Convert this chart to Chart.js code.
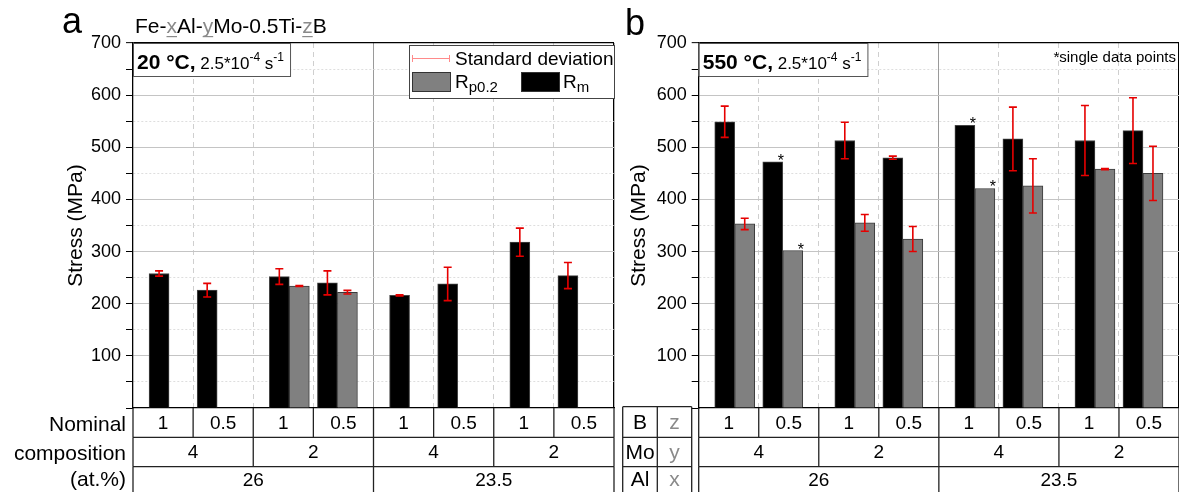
<!DOCTYPE html>
<html>
<head>
<meta charset="utf-8">
<script src="https://cdn.jsdelivr.net/npm/chart.js@4.4.0/dist/chart.umd.min.js"></script>
<style>
  body { margin: 0; background: #fff; }
  #wrap { position: relative; width: 1179px; height: 492px; overflow: hidden; background: #fff; }
  canvas { position: absolute; top: 0; }
  #chartA { left: 0; }
  #chartB { left: 600px; }
</style>
</head>
<body>
<div id="wrap">
  <canvas id="chartA" width="620" height="492"></canvas>
  <canvas id="chartB" width="579" height="492"></canvas>
</div>
<script>
// Nominal composition (at.%) for the table under each panel
const boron = ['1', '0.5', '1', '0.5', '1', '0.5', '1', '0.5'];
const molybdenum = ['4', '2', '4', '2'];
const aluminium = ['26', '23.5'];

// Panel a: 20 °C
const rmRoom = [258, 226, 252, 240, 216, 238, 318, 254];
const rmRoomSd = [5, 13, 15, 23, 1, 32, 27, 25];
const rpRoom = [null, null, 234, 222, null, null, null, null];
const rpRoomSd = [null, null, 1, 3.5, null, null, null, null];

// Panel b: 550 °C
const rmHot = [549, 472, 513, 480, 542, 516, 513, 532];
const rmHotSd = [30, 0, 35, 3, 0, 61, 67, 63];
const rpHot = [353, 302, 355, 324, 421, 426, 458, 450];
const rpHotSd = [11, 0, 16, 24, 0, 52, 1, 52];
const rmHotSingle = [false, true, false, false, true, false, false, false];
const rpHotSingle = [false, true, false, false, true, false, false, false];

const FAMILY = '"Liberation Sans", Arial, sans-serif';
const font = (size, bold) => (bold ? 'bold ' : '') + size + 'px ' + FAMILY;

// each Mo group spans two table cells, the two bar pairs sit close to its middle
const slotX = i => Math.floor(i / 2) * 2 + 1 + (i % 2 ? 0.4 : -0.4);

function drawRuns(ctx, x, y, runs) {
    runs.forEach(r => {
        ctx.font = r.font;
        ctx.fillStyle = r.color || '#000';
        ctx.fillText(r.text, x, y + (r.dy || 0));
        const w = ctx.measureText(r.text).width;
        if (r.underline) ctx.fillRect(x, y + 3, w, 1.2);
        x += w;
    });
    return x;
}

function measureRuns(ctx, runs) {
    let w = 0;
    runs.forEach(r => { ctx.font = r.font; w += ctx.measureText(r.text).width; });
    return w;
}

function conditionBox(ctx, left, top, temp) {
    const runs = [
        { text: temp, font: font(21, true) },
        { text: ' 2.5*10', font: font(17) },
        { text: '-4', font: font(12), dy: -8 },
        { text: ' s', font: font(17) },
        { text: '-1', font: font(12), dy: -8 }
    ];
    const w = measureRuns(ctx, runs) + 10;
    ctx.fillStyle = '#fff';
    ctx.fillRect(left, top, w, 33);
    ctx.strokeStyle = '#555';
    ctx.lineWidth = 1;
    ctx.strokeRect(left + 0.5, top + 0.5, w, 33);
    drawRuns(ctx, left + 4, top + 26, runs);
}

function drawTable(chart) {
    const ctx = chart.ctx, x = chart.scales.x, area = chart.chartArea;
    const px = v => x.getPixelForValue(v);
    const b = area.bottom;
    const rows = [
        { top: b, bot: b + 29.3, span: 1, labels: boron },
        { top: b + 29.3, bot: b + 58.7, span: 2, labels: molybdenum },
        { top: b + 58.7, bot: chart.height + 2, span: 4, labels: aluminium }
    ];
    ctx.save();
    ctx.strokeStyle = '#222';
    ctx.lineWidth = 1.3;
    ctx.fillStyle = '#000';
    ctx.font = font(19);
    ctx.textAlign = 'center';
    ctx.textBaseline = 'middle';
    rows.forEach((row, r) => {
        if (r > 0) {
            ctx.beginPath();
            ctx.moveTo(px(0), row.top);
            ctx.lineTo(px(8), row.top);
            ctx.stroke();
        }
        for (let k = 0; k <= 8 / row.span; k++) {
            ctx.beginPath();
            ctx.moveTo(px(k * row.span), row.top);
            ctx.lineTo(px(k * row.span), row.bot);
            ctx.stroke();
        }
        row.labels.forEach((t, k) => {
            const cx = (px(k * row.span) + px((k + 1) * row.span)) / 2;
            ctx.fillText(t, cx, (row.top + Math.min(row.bot, chart.height)) / 2 + 1);
        });
    });
    ctx.restore();
}

const errorBars = {
    id: 'errorBars',
    afterDatasetsDraw(chart) {
        const ctx = chart.ctx, y = chart.scales.y;
        chart.data.datasets.forEach((ds, di) => {
            const meta = chart.getDatasetMeta(di);
            ctx.save();
            ctx.strokeStyle = '#e60000';
            ctx.lineWidth = 1.6;
            ds.data.forEach((p, i) => {
                const sd = ds.sd[i];
                if (p.y == null || !sd) return;
                const bx = meta.data[i].x;
                const top = y.getPixelForValue(p.y + sd);
                const bot = y.getPixelForValue(p.y - sd);
                ctx.beginPath();
                ctx.moveTo(bx, top); ctx.lineTo(bx, bot);
                ctx.moveTo(bx - 4, top); ctx.lineTo(bx + 4, top);
                ctx.moveTo(bx - 4, bot); ctx.lineTo(bx + 4, bot);
                ctx.stroke();
            });
            // asterisk for bars that are a single measurement
            if (ds.single) {
                ctx.fillStyle = '#000';
                ctx.font = font(16);
                ctx.textAlign = 'center';
                ds.single.forEach((s, i) => {
                    if (!s) return;
                    const bar = meta.data[i];
                    ctx.fillText('*', bar.x + 8, bar.y + 4);
                });
            }
            ctx.restore();
        });
    }
};

const overlayA = {
    id: 'overlayA',
    afterDraw(chart) {
        const ctx = chart.ctx, area = chart.chartArea;
        ctx.save();
        ctx.textAlign = 'left';
        ctx.textBaseline = 'alphabetic';
        ctx.fillStyle = '#000';
        ctx.font = font(36);
        ctx.fillText('a', 62, 33);

        const grey = '#8a8a8a';
        drawRuns(ctx, 135, 33, [
            { text: 'Fe-', font: font(21) },
            { text: 'x', font: font(21), color: grey, underline: true },
            { text: 'Al-', font: font(21) },
            { text: 'y', font: font(21), color: grey, underline: true },
            { text: 'Mo-0.5Ti-', font: font(21) },
            { text: 'z', font: font(21), color: grey, underline: true },
            { text: 'B', font: font(21) }
        ]);

        conditionBox(ctx, area.left, area.top, '20 °C,');

        // legend box
        const lx = area.right - 205, ly = area.top + 2;
        ctx.fillStyle = '#fff';
        ctx.fillRect(lx, ly, 205, 53);
        ctx.strokeStyle = '#444';
        ctx.lineWidth = 1;
        ctx.strokeRect(lx + 0.5, ly + 0.5, 205, 53);
        ctx.strokeStyle = '#ff8a8a';
        ctx.beginPath();
        ctx.moveTo(lx + 3, ly + 13.5); ctx.lineTo(lx + 41, ly + 13.5);
        ctx.moveTo(lx + 3.5, ly + 10); ctx.lineTo(lx + 3.5, ly + 17);
        ctx.moveTo(lx + 40.5, ly + 10); ctx.lineTo(lx + 40.5, ly + 17);
        ctx.stroke();
        drawRuns(ctx, lx + 46, ly + 20, [{ text: 'Standard deviation', font: font(19) }]);
        ctx.strokeStyle = '#333';
        ctx.fillStyle = '#808080';
        ctx.fillRect(lx + 3, ly + 27, 38, 19);
        ctx.strokeRect(lx + 3.5, ly + 27.5, 38, 19);
        ctx.fillStyle = '#000';
        ctx.fillRect(lx + 112, ly + 27, 38, 19);
        ctx.strokeRect(lx + 112.5, ly + 27.5, 38, 19);
        drawRuns(ctx, lx + 46, ly + 42.5, [
            { text: 'R', font: font(19) },
            { text: 'p0.2', font: font(15), dy: 4 }
        ]);
        drawRuns(ctx, lx + 154, ly + 42.5, [
            { text: 'R', font: font(19) },
            { text: 'm', font: font(15), dy: 4 }
        ]);

        // row captions left of the table
        ctx.textAlign = 'right';
        ctx.font = font(21);
        ctx.fillStyle = '#000';
        ctx.fillText('Nominal', area.left - 7, area.bottom + 23);
        ctx.fillText('composition', area.left - 7, area.bottom + 52);
        ctx.fillText('(at.%)', area.left - 7, area.bottom + 78);
        ctx.restore();
        drawTable(chart);
    }
};

const overlayB = {
    id: 'overlayB',
    afterDraw(chart) {
        const ctx = chart.ctx, area = chart.chartArea;
        ctx.save();
        ctx.textAlign = 'left';
        ctx.textBaseline = 'alphabetic';
        ctx.fillStyle = '#000';
        ctx.font = font(36);
        ctx.fillText('b', 25, 35);

        conditionBox(ctx, area.left, area.top, '550 °C,');

        ctx.textAlign = 'right';
        ctx.font = font(15);
        ctx.fillStyle = '#000';
        ctx.fillText('*single data points', area.right - 3, area.top + 19);

        // key: element / variable
        const kx = [area.left - 76, area.left - 41.4, area.left - 7];
        const top = area.bottom - 1.3;
        const rowsY = [top, area.bottom + 29.3, area.bottom + 58.7, chart.height + 2];
        const keys = [['B', 'z'], ['Mo', 'y'], ['Al', 'x']];
        ctx.strokeStyle = '#222';
        ctx.lineWidth = 1.3;
        ctx.beginPath();
        for (let r = 0; r < 3; r++) {
            ctx.moveTo(kx[0], rowsY[r]);
            ctx.lineTo(kx[2], rowsY[r]);
        }
        kx.forEach(v => { ctx.moveTo(v, top); ctx.lineTo(v, chart.height); });
        ctx.stroke();
        ctx.textAlign = 'center';
        ctx.textBaseline = 'middle';
        ctx.font = font(21);
        keys.forEach((k, r) => {
            const cy = (rowsY[r] + Math.min(rowsY[r + 1], chart.height)) / 2 + 1;
            ctx.fillStyle = '#000';
            ctx.fillText(k[0], (kx[0] + kx[1]) / 2, cy);
            ctx.fillStyle = '#8a8a8a';
            ctx.fillText(k[1], (kx[1] + kx[2]) / 2, cy);
        });
        ctx.restore();
        drawTable(chart);
    }
};

function makeChart(id, opts) {
    const ctx = document.getElementById(id);
    return new Chart(ctx, {
        type: 'bar',
        data: {
            datasets: [{
                label: 'Rm',
                data: opts.rm.map((v, i) => ({ x: slotX(i), y: v })),
                sd: opts.rmSd,
                single: opts.rmSingle,
                backgroundColor: '#000',
                borderColor: '#444',
                borderWidth: 1,
                barThickness: 20
            }, {
                label: 'Rp0.2',
                data: opts.rp.map((v, i) => ({ x: slotX(i), y: v })),
                sd: opts.rpSd,
                single: opts.rpSingle,
                backgroundColor: '#808080',
                borderColor: '#3a3a3a',
                borderWidth: 1,
                barThickness: 20
            }]
        },
        options: {
            responsive: false,
            animation: false,
            layout: { padding: { top: 43, right: opts.padRight, left: 0, bottom: 0 } },
            plugins: {
                legend: { display: false },
                tooltip: { enabled: false }
            },
            scales: {
                x: {
                    type: 'linear',
                    min: 0,
                    max: 8,
                    offset: false,
                    ticks: { display: false, stepSize: 1 },
                    grid: {
                        offset: false,
                        drawTicks: false,
                        color: c => {
                            const v = c.tick && c.tick.value;
                            if (v === 0) return 'rgba(0,0,0,0)';
                            if (v === 8) return '#000';
                            if (v === 4) return '#9a9a9a';
                            return '#cfcfcf';
                        },
                        lineWidth: c => (c.tick && c.tick.value === 8 ? 1.3 : 1)
                    },
                    border: {
                        display: true,
                        color: '#000',
                        width: 1.3,
                        dash: c => (c.tick && c.tick.value % 4 !== 0 ? [5, 4] : [])
                    },
                    afterFit: s => { s.height = 84; }
                },
                y: {
                    min: 0,
                    max: 700,
                    ticks: {
                        stepSize: 50,
                        color: '#000',
                        padding: 5,
                        font: { family: FAMILY, size: 18 },
                        callback: v => (v > 0 && v % 100 === 0 ? v : '')
                    },
                    grid: {
                        color: c => {
                            const v = c.tick && c.tick.value;
                            if (v === 0) return 'rgba(0,0,0,0)';
                            if (v === 700) return '#000';
                            return v % 100 === 0 ? '#c4c4c4' : '#dedede';
                        },
                        lineWidth: c => (c.tick && c.tick.value === 700 ? 1.3 : 1),
                        tickColor: '#000',
                        tickLength: 7,
                        tickWidth: 1,
                        tickBorderDash: []
                    },
                    border: {
                        display: true,
                        color: '#000',
                        width: 1.3,
                        dash: c => (c.tick && c.tick.value % 100 !== 0 ? [2, 2] : [])
                    },
                    title: {
                        display: true,
                        text: 'Stress (MPa)',
                        color: '#000',
                        font: { family: FAMILY, size: 21 },
                        padding: { top: opts.titlePad, bottom: 0 }
                    },
                    afterFit: s => { s.width = opts.axisWidth; }
                }
            }
        },
        plugins: [errorBars, opts.overlay]
    });
}

makeChart('chartA', {
    rm: rmRoom, rmSd: rmRoomSd, rp: rpRoom, rpSd: rpRoomSd,
    axisWidth: 133, padRight: 6, titlePad: 64, overlay: overlayA
});

makeChart('chartB', {
    rm: rmHot, rmSd: rmHotSd, rp: rpHot, rpSd: rpHotSd,
    rmSingle: rmHotSingle, rpSingle: rpHotSingle,
    axisWidth: 98.7, padRight: 0, titlePad: 27, overlay: overlayB
});
</script>
</body>
</html>
